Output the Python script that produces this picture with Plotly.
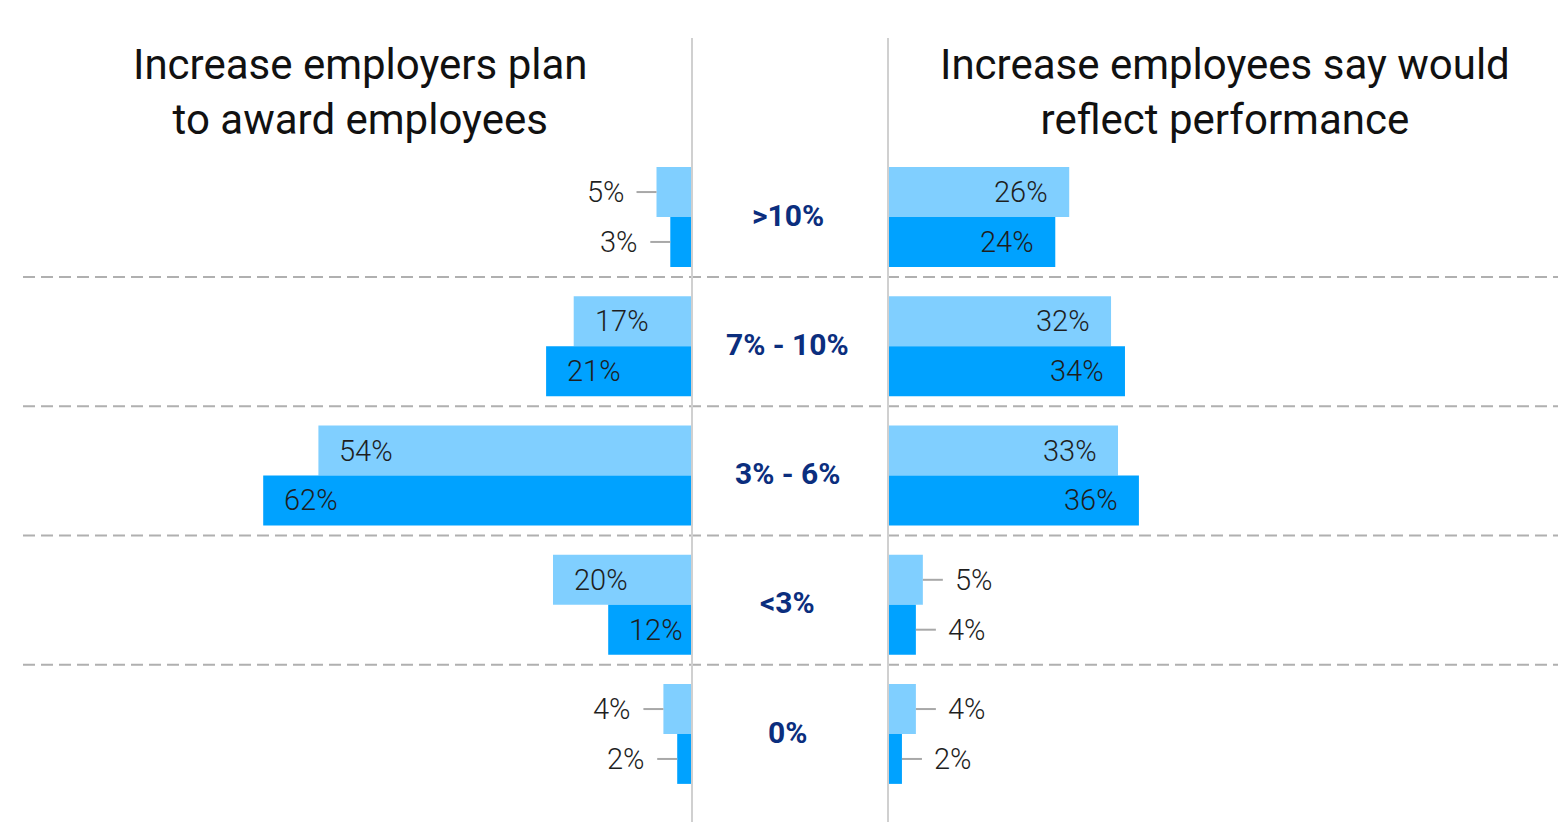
import plotly.graph_objects as go
from plotly.subplots import make_subplots

# Survey data: salary-increase bands
bands = [">10%", "7% - 10%", "3% - 6%", "<3%", "0%"]
employer_prev = [5, 17, 54, 20, 4]   # lighter bars
employer_curr = [3, 21, 62, 12, 2]   # darker bars
employee_prev = [26, 32, 33, 5, 4]
employee_curr = [24, 34, 36, 4, 2]

left_title = "Increase employers plan<br>to award employees"
right_title = "Increase employees say would<br>reflect performance"

LIGHT = "#80CFFF"
DARK = "#00A2FF"
NAVY = "#0B2E7E"
TEXT = "#1E1E1E"
LEADER = "#A8A8A8"
FONT = "Roboto"

rows = list(range(len(bands)))

fig = make_subplots(rows=1, cols=2, shared_yaxes=True, horizontal_spacing=0.0)

bar_kw = dict(orientation="h", hoverinfo="skip", marker_line_width=0)
fig.add_trace(go.Bar(x=employer_prev, y=rows, marker_color=LIGHT, **bar_kw), 1, 1)
fig.add_trace(go.Bar(x=employer_curr, y=rows, marker_color=DARK, **bar_kw), 1, 1)
fig.add_trace(go.Bar(x=employee_prev, y=rows, marker_color=LIGHT, **bar_kw), 1, 2)
fig.add_trace(go.Bar(x=employee_curr, y=rows, marker_color=DARK, **bar_kw), 1, 2)

W, H = 1558, 822
left_zero = 691
right_zero = 888
px_per_pct_l = 6.9
px_per_pct_r = 6.97
row0_px = 217
row_px = 129.25

fig.update_layout(
    width=W, height=H,
    margin=dict(l=0, r=0, t=0, b=0),
    paper_bgcolor="white", plot_bgcolor="white",
    barmode="group", bargap=0.228, bargroupgap=0.0,
    showlegend=False,
    font=dict(family=FONT, color=TEXT),
    xaxis=dict(domain=[0, left_zero / W], range=[left_zero / px_per_pct_l, 0],
               visible=False, fixedrange=True),
    xaxis2=dict(domain=[right_zero / W, 1],
                range=[0, (W - right_zero) / px_per_pct_r],
                visible=False, fixedrange=True),
    yaxis=dict(range=[(H - row0_px) / row_px, -row0_px / row_px],
               visible=False, fixedrange=True),
)

half = (1 - 0.228) / 4  # offset of each bar's centre from its row centre
label_font = dict(family=FONT, size=29, color=TEXT, weight=300)

def add_labels(values, xref, offset, side):
    for i, v in enumerate(values):
        y = i + offset
        if v >= 10:
            # value printed inside the bar near its outer end
            fig.add_annotation(
                x=v, y=y, xref=xref, yref="y", text=f"{v}%", showarrow=False,
                xanchor="left" if side == "left" else "right",
                xshift=19 if side == "left" else -19,
                font=label_font)
        else:
            sgn = -1 if side == "left" else 1
            fig.add_shape(
                type="line", xref=xref, yref="y", xsizemode="pixel",
                xanchor=v, x0=0, x1=sgn * 20, y0=y, y1=y,
                line=dict(color=LEADER, width=2))
            fig.add_annotation(
                x=v, y=y, xref=xref, yref="y", text=f"{v}%", showarrow=False,
                xanchor="right" if side == "left" else "left",
                xshift=sgn * 30, font=label_font)

add_labels(employer_prev, "x", -half, "left")
add_labels(employer_curr, "x", half, "left")
add_labels(employee_prev, "x2", -half, "right")
add_labels(employee_curr, "x2", half, "right")

# band names between the two panels
for i, b in enumerate(bands):
    fig.add_annotation(
        x=788 / W, y=i, xref="paper", yref="y", text=f"<b>{b}</b>",
        showarrow=False, xanchor="center", yshift=2,
        font=dict(family=FONT, size=30, color=NAVY))

# dashed separators between bands
for i in rows[:-1]:
    fig.add_shape(type="line", xref="paper", yref="y",
                  x0=23 / W, x1=1, y0=i + 0.465, y1=i + 0.465,
                  line=dict(color="#B0B0B0", width=2, dash="12px,6px"),
                  layer="below")

# vertical panel edges
for xp in (692, 888):
    fig.add_shape(type="line", xref="paper", yref="paper",
                  x0=xp / W, x1=xp / W, y0=0, y1=1 - 38 / H,
                  line=dict(color="#D0D0D0", width=2), layer="above")

# panel titles
for txt, xc in ((left_title, 360), (right_title, 1225)):
    fig.add_annotation(
        x=xc / W, y=1 - 92 / H, xref="paper", yref="paper", text=txt,
        showarrow=False, xanchor="center", yanchor="middle",
        font=dict(family=FONT, size=42, color="#111111"))

fig.write_html("out.html")
